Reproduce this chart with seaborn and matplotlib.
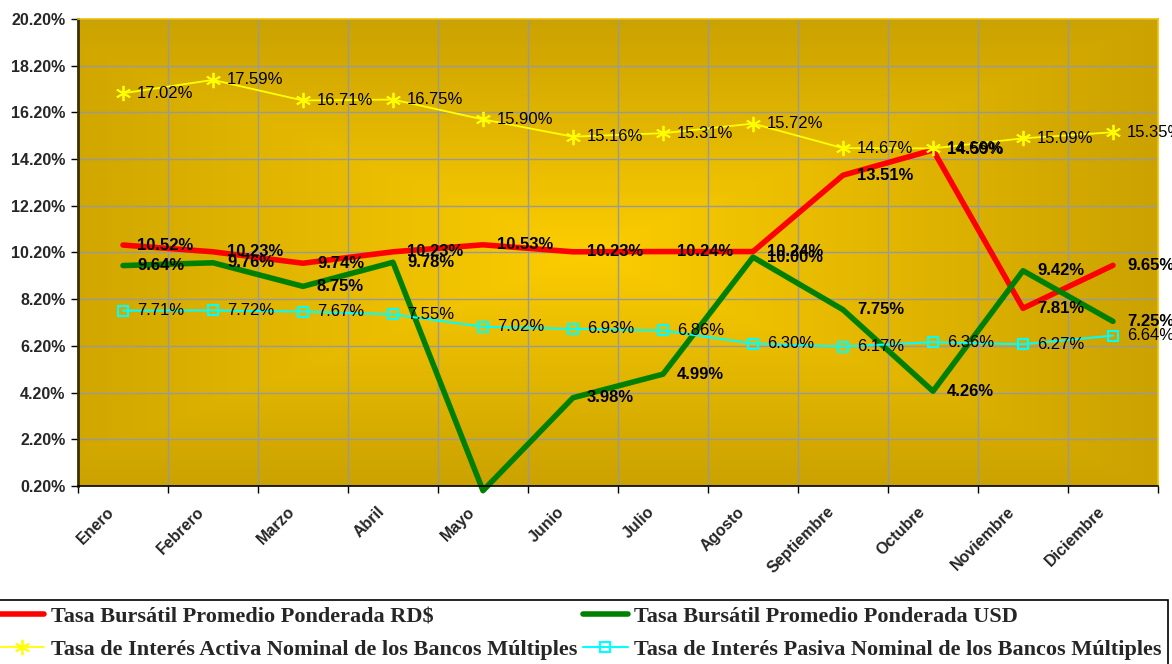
import numpy as np
import seaborn as sns
import matplotlib.pyplot as plt
from matplotlib.transforms import ScaledTranslation

meses = ['Enero', 'Febrero', 'Marzo', 'Abril', 'Mayo', 'Junio', 'Julio',
         'Agosto', 'Septiembre', 'Octubre', 'Noviembre', 'Diciembre']

tasa_rd = [10.52, 10.23, 9.74, 10.23, 10.53, 10.23, 10.24, 10.24, 13.51, 14.59, 7.81, 9.65]
tasa_usd = [9.64, 9.76, 8.75, 9.78, 0.00, 3.98, 4.99, 10.00, 7.75, 4.26, 9.42, 7.25]
tasa_activa = [17.02, 17.59, 16.71, 16.75, 15.90, 15.16, 15.31, 15.72, 14.67, 14.66, 15.09, 15.35]
tasa_pasiva = [7.71, 7.72, 7.67, 7.55, 7.02, 6.93, 6.86, 6.30, 6.17, 6.36, 6.27, 6.64]

nombres = ['Tasa Bursátil Promedio Ponderada RD$',
           'Tasa Bursátil Promedio Ponderada USD',
           'Tasa de Interés Activa Nominal de los Bancos Múltiples',
           'Tasa de Interés Pasiva Nominal de los Bancos Múltiples']

y_ticks = [0.2, 2.2, 4.2, 6.2, 8.2, 10.2, 12.2, 14.2, 16.2, 18.2, 20.2]

sns.set_style('white')
plt.rcParams['font.family'] = ['Liberation Sans', 'DejaVu Sans']

fig = plt.figure(figsize=(11.72, 6.64), dpi=100)
ax = fig.add_axes([78 / 1172, 1 - 486 / 664, 1080 / 1172, 467 / 664])

pos = np.arange(len(meses))

# fondo con degradado rectangular desde el centro (estilo Excel)
gh, gw = 300, 600
u = np.linspace(0, 1, gw)[None, :]
v = np.linspace(0, 1, gh)[:, None]
t = np.maximum(np.abs(u - 0.47) / 0.53, np.abs(v - 0.5) / 0.5)
t = np.clip(t, 0, 1)
c_centro = np.array([252, 205, 0]) / 255
c_borde = np.array([203, 162, 0]) / 255
grad = c_centro[None, None, :] * (1 - t[..., None]) + c_borde[None, None, :] * t[..., None]
ax.imshow(grad, extent=(-0.5, 11.5, 0.2, 20.2), origin='lower', aspect='auto', zorder=0)

sns.lineplot(x=pos, y=tasa_rd, color='#FF0000', lw=4, sort=False, ax=ax,
             label=nombres[0], clip_on=False)
sns.lineplot(x=pos, y=tasa_usd, color='#008000', lw=4, sort=False, ax=ax,
             label=nombres[1], clip_on=False)
sns.lineplot(x=pos, y=tasa_activa, color='#FFFF00', lw=1.3, sort=False, ax=ax,
             label=nombres[2], marker=(6, 2, 0), markersize=11,
             markeredgecolor='#FFFF00', markeredgewidth=1.3)
sns.lineplot(x=pos, y=tasa_pasiva, color='#00FFFF', lw=1.5, sort=False, ax=ax,
             label=nombres[3], marker='s', markersize=7, markerfacecolor='none',
             markeredgecolor='#00FFFF', markeredgewidth=1.5)

# etiquetas de datos
for serie, negrita in [(tasa_rd, True), (tasa_usd, True), (tasa_activa, False), (tasa_pasiva, False)]:
    for x, val in zip(pos, serie):
        if val < 0.2:
            continue
        ax.annotate(f'{val:.2f}%', (x, val), xytext=(10, 0), textcoords='offset points',
                    va='center', ha='left', fontsize=12, color='black',
                    fontweight='bold' if negrita else 'normal',
                    annotation_clip=False, zorder=5)

ax.set_xlim(-0.5, 11.5)
ax.set_ylim(0.2, 20.2)
ax.set_yticks(y_ticks)
ax.set_yticklabels([f'{y:.2f}%' for y in y_ticks], fontsize=11.5, fontweight='bold')
ax.set_xticks(pos)
ax.set_xticklabels(meses, rotation=45, ha='right', va='top', rotation_mode='anchor',
                   fontsize=11.5, fontweight='bold')
ax.set_xticks(np.arange(-0.5, 12, 1), minor=True)
ax.tick_params(axis='x', which='major', length=0, pad=13)
ax.tick_params(axis='x', which='minor', length=5, width=1, color='black', direction='out', bottom=True)
ax.tick_params(axis='y', length=5, width=1, color='black', direction='out', left=True, pad=4)
desplaza = ScaledTranslation(-16 / 100, 0, fig.dpi_scale_trans)
for lab in ax.get_xticklabels():
    lab.set_transform(lab.get_transform() + desplaza)

ax.set_axisbelow(True)
ax.grid(False)
ax.grid(axis='y', which='major', color='#999999', lw=1)
ax.grid(axis='x', which='minor', color='#999999', lw=1)

ax.spines['left'].set_color('#3A3000')
ax.spines['left'].set_linewidth(2)
ax.spines['bottom'].set_color('black')
ax.spines['bottom'].set_linewidth(1.2)
for lado in ['top', 'right']:
    ax.spines[lado].set_color('#F0C000')
    ax.spines[lado].set_linewidth(1.2)
    ax.spines[lado].set_visible(True)

handles, labels = ax.get_legend_handles_labels()
if ax.get_legend() is not None:
    ax.get_legend().remove()
orden = [0, 2, 1, 3]
leg = fig.legend([handles[i] for i in orden], [labels[i] for i in orden], ncol=2,
                 loc='upper left', bbox_to_anchor=(-0.006, 0.0, 1.003, 0.0964), mode='expand',
                 borderaxespad=0, frameon=True, fancybox=False, edgecolor='black', framealpha=1,
                 handlelength=2.0, handletextpad=0.3, columnspacing=0.3,
                 labelspacing=0.55, borderpad=0.3,
                 prop={'family': 'Liberation Serif', 'weight': 'bold', 'size': 16})
leg.get_frame().set_linewidth(1.2)

fig.savefig('out.png', dpi=100, facecolor='white')
